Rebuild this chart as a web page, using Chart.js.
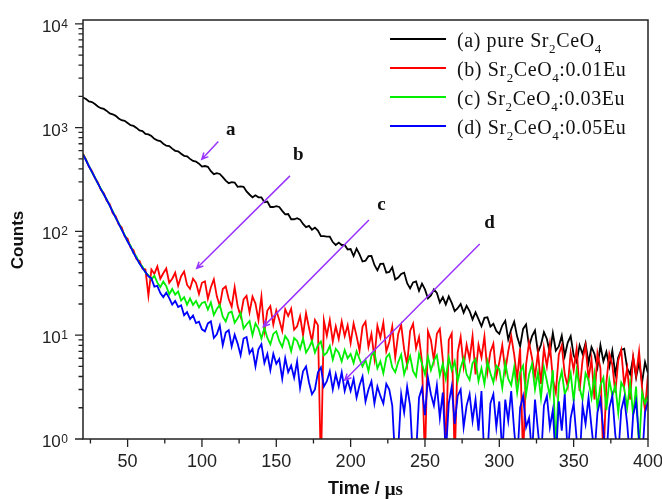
<!DOCTYPE html>
<html>
<head>
<meta charset="utf-8">
<script src="https://cdn.jsdelivr.net/npm/chart.js@4.4.1/dist/chart.umd.min.js"></script>
<style>
  html, body { margin: 0; padding: 0; background: #fff; }
  canvas { display: block; }
</style>
</head>
<body>
<canvas id="graficoDecaimiento" width="662" height="499"></canvas>
<script>
// time axis (µs) and photon counts
const timeUs = [
  20, 22, 24, 26, 28, 30, 32, 34, 36, 38, 40, 42, 44, 46, 48, 50, 52, 54, 56, 58,
  60, 62, 64, 66, 68, 70, 72, 74, 76, 78, 80, 82, 84, 86, 88, 90, 92, 94, 96, 98,
  100, 102, 104, 106, 108, 110, 112, 114, 116, 118, 120, 122, 124, 126, 128, 130, 132, 134, 136, 138,
  140, 142, 144, 146, 148, 150, 152, 154, 156, 158, 160, 162, 164, 166, 168, 170, 172, 174, 176, 178,
  180, 182, 184, 186, 188, 190, 192, 194, 196, 198, 200, 202, 204, 206, 208, 210, 212, 214, 216, 218,
  220, 222, 224, 226, 228, 230, 232, 234, 236, 238, 240, 242, 244, 246, 248, 250, 252, 254, 256, 258,
  260, 262, 264, 266, 268, 270, 272, 274, 276, 278, 280, 282, 284, 286, 288, 290, 292, 294, 296, 298,
  300, 302, 304, 306, 308, 310, 312, 314, 316, 318, 320, 322, 324, 326, 328, 330, 332, 334, 336, 338,
  340, 342, 344, 346, 348, 350, 352, 354, 356, 358, 360, 362, 364, 366, 368, 370, 372, 374, 376, 378,
  380, 382, 384, 386, 388, 390, 392, 394, 396, 398, 400
];

const countsPure = [
  1950, 1890, 1790, 1765, 1690, 1600, 1540, 1515, 1450, 1370,
  1345, 1300, 1225, 1180, 1165, 1110, 1055, 1040, 995, 940,
  925, 870, 860, 830, 780, 755, 742, 700, 670, 665,
  628, 598, 592, 560, 535, 530, 500, 478, 472, 450,
  422, 427, 420, 381, 356, 364, 358, 334, 309, 292,
  299, 296, 269, 272, 269, 243, 227, 213, 223, 213,
  213, 191, 194, 172, 172, 175, 172, 158, 146, 147,
  131, 131, 134, 130, 118, 110, 113, 104, 109, 102,
  90, 90, 89, 89, 79, 74, 78, 74, 74, 67,
  67.6, 58, 68.3, 60.2, 51.3, 52.3, 57.8, 58.1, 47.5, 42.2,
  48.8, 49, 40, 40.7, 45.2, 34.4, 35.9, 39, 40.1, 31.7,
  28.3, 32.3, 33, 26.7, 31.4, 27.6, 22.7, 24.2, 27.6, 25.5,
  20.7, 23.3, 19.8, 23.7, 20.5, 17.1, 18.2, 20, 16.5, 19.2,
  17.1, 14.2, 16.6, 14.3, 12.2, 14.7, 14.9, 12.1, 12.9, 11,
  10.3, 12.4, 13.8, 9.1, 11.4, 13.5, 9.7, 7.8, 11.5, 12.7,
  7.8, 9.8, 11.1, 6.8, 8.1, 10.7, 9.2, 6.7, 10.5, 7.1,
  7.8, 9.9, 6.3, 8.5, 9.8, 6.4, 5.5, 8, 6.6, 8.4,
  5.4, 7.7, 6.6, 4.9, 8, 5.6, 6.9, 5, 7.1, 4.2,
  6.1, 7.2, 7.4, 4.8, 4.2, 6.1, 3.9, 5.5, 3.5, 5.5,
  4.3
];

const counts001Eu = [
  560, 495, 420, 382, 326, 296, 252, 233, 197, 183,
  150, 140, 117, 110, 90, 85, 70, 66, 54, 52,
  44, 43, 24, 43, 39, 46, 35, 39.5, 44, 32,
  35, 40, 30, 37, 41, 30.5, 28, 35, 32, 25,
  32, 33, 22.5, 29, 34.5, 23.7, 19.2, 27.9, 29.5, 22.3,
  18.8, 29, 19.1, 15.2, 22.1, 24, 16.6, 23.6, 20.2, 14,
  23.5, 11, 17.3, 19.1, 12.7, 17.4, 14, 11, 17.8, 15.3,
  18, 11.3, 12.2, 15.3, 10, 16.3, 11.8, 8.7, 14, 12.5,
  0.5, 13.9, 9.9, 14, 8.7, 12.2, 9.2, 13.6, 9.8, 12.5,
  8.4, 13, 9.8, 7.1, 12.1, 13.5, 7.7, 10.3, 6, 12.3,
  9.5, 13.2, 7, 8.6, 12.1, 6.1, 10.3, 12.6, 7.3, 5.2,
  11, 12.9, 7.5, 9.6, 5.5, 0.6, 10.9, 9, 5.7, 10.3,
  11.5, 5.8, 0.7, 9, 10.4, 0.6, 6.8, 9.6, 5, 8.1,
  5.9, 9.8, 4.2, 8.1, 6.1, 9.7, 4.4, 6.9, 8.3, 4,
  5.5, 8, 4.5, 7, 9.8, 6.5, 3.8, 7.5, 0.6, 5.2,
  8.5, 6, 4, 6.8, 3.4, 7.5, 5, 8.2, 3.8, 2.8,
  6.5, 8, 4.2, 3.2, 6.8, 4.6, 7.4, 2.9, 5.8, 7.9,
  3.8, 5.9, 2.4, 6.7, 4.8, 0.6, 3.5, 6.6, 5.2, 2.8,
  5.7, 7.2, 3.3, 4.8, 2.4, 6.2, 4.1, 7, 3.1, 1.9,
  4.2
];

const counts003Eu = [
  555, 488, 428, 372, 333, 289, 259, 226, 204, 176,
  157, 135, 121, 104, 93, 80, 73, 62, 57, 49,
  46, 40, 38, 34.5, 37.5, 32.1, 29.1, 32.9, 29.7, 24.8,
  27.9, 24.6, 26.4, 21.6, 23.3, 19.7, 22.6, 19.6, 21.4, 18.5,
  20.5, 21, 17.7, 20.7, 15.7, 17.9, 19.6, 15.1, 13.6, 16.4,
  16.9, 13.2, 14.6, 16.4, 11.6, 12.7, 13.7, 10, 13, 11.6,
  9.3, 11.8, 9.4, 8.2, 10.3, 10.9, 8.8, 7.7, 9.8, 8.9,
  7, 9.4, 8.8, 7.4, 9.3, 6.8, 7.6, 8.8, 6.8, 8,
  8.7, 6.4, 6.8, 7.9, 5.8, 7.4, 6.8, 5.6, 7.2, 6,
  6.6, 5.4, 7, 5.9, 5, 5.8, 4.5, 6.4, 6.9, 4.8,
  5.6, 4.3, 6.1, 6.6, 4.9, 4.4, 5.5, 6.5, 4.2, 5.2,
  6.3, 4.5, 4, 6.6, 5.3, 4.2, 6.2, 4.6, 5.7, 6.4,
  4.1, 5.3, 3.8, 6.1, 4.6, 5.6, 3.6, 4.9, 6, 4.2,
  3.7, 5.4, 5.9, 3.6, 4.8, 3.4, 5.6, 4.3, 3.5, 5.1,
  4.7, 3.1, 5.4, 3.8, 3.3, 4.9, 2.8, 4.4, 5.1, 2.7,
  4.2, 5.3, 3, 4.4, 2.5, 4.9, 3.6, 2.6, 4.6, 0.8,
  3.4, 4.5, 2.7, 3.2, 4.3, 2.3, 4.6, 3.1, 2.4, 4.3,
  3.7, 2.5, 4.2, 2, 3.3, 3.9, 1.9, 3.7, 2.6, 3.3,
  1.8, 3.5, 3.1, 2, 3.5, 1.7, 3.2, 0.8, 2.8, 2.2,
  2.6
];

const counts005Eu = [
  550, 485, 425, 375, 330, 290, 256, 228, 201, 177,
  154, 136, 119, 104, 91, 80, 71, 62, 55, 49,
  44.5, 40.7, 37, 35.3, 29.4, 29.9, 25.5, 23.3, 25.7, 22.8,
  19.7, 21.4, 18.7, 19.4, 15.6, 16.7, 14.3, 15.5, 13.1, 13.5,
  11.4, 10.9, 13, 13.6, 9.4, 10.2, 12.4, 8, 10.6, 11.2,
  7.8, 10.1, 8.3, 6.4, 9.3, 9.6, 6.7, 7.4, 5, 7.3,
  8.2, 5.4, 6.6, 4.6, 6.6, 5.3, 5.9, 3.8, 6, 4.4,
  5.1, 3.9, 5.6, 3.1, 4.5, 5, 3.5, 2.7, 3, 4.4,
  4.9, 3.2, 3.6, 4.5, 3, 4.2, 3.2, 4.4, 2.9, 3.7,
  2.9, 3.8, 2.5, 3.3, 4, 2.3, 3, 3.6, 2.2, 3.2,
  2.6, 2.2, 3.4, 3, 2.1, 0.6, 0.8, 2.7, 1.8, 3.2,
  2.1, 0.6, 0.7, 2.5, 3.1, 1.7, 3.9, 2.7, 2.1, 3.3,
  1.6, 2.8, 0.7, 2.2, 3.2, 1.4, 2.6, 3, 1.3, 2.1,
  2.7, 1.5, 2.4, 1.2, 2.9, 0.6, 0.7, 2.2, 2.7, 1.3,
  2.3, 0.7, 2.4, 1.5, 2.9, 1.2, 0.6, 2, 2.6, 1.3,
  1.6, 0.7, 2.4, 1.2, 0.6, 2.1, 2.6, 1.3, 1.9, 0.6,
  2.3, 1.2, 2.7, 0.7, 1.6, 2.2, 1, 0.6, 2.1, 1.4,
  2.5, 1.3, 0.7, 1.8, 2.4, 1.2, 0.6, 2, 2.6, 1.1,
  0.7, 1.9, 2.5, 1.4, 0.6, 1.7, 2.3, 1, 0.6, 1.8,
  2.3
];

// "_d" marks a subscript digit
const seriesLabels = [
  "(a) pure Sr_2CeO_4",
  "(b) Sr_2CeO_4:0.01Eu",
  "(c) Sr_2CeO_4:0.03Eu",
  "(d) Sr_2CeO_4:0.05Eu"
];
const seriesColors = ["#000000", "#ff0000", "#00ee00", "#0000ff"];
const xTickValues = [50, 100, 150, 200, 250, 300, 350, 400];
const yTickPowers = [0, 1, 2, 3, 4];

// arrows pointing at each curve, in data units (µs, counts)
const curveArrows = [
  { label: "a", from: [111.0, 734], to: [99.9, 497], at: [119.4, 951] },
  { label: "b", from: [159.2, 343], to: [96.5, 44.2], at: [164.8, 546] },
  { label: "c", from: [212.3, 129], to: [141.3, 12.1], at: [220.8, 180] },
  { label: "d", from: [286.8, 75.8], to: [196.1, 3.7], at: [293.5, 120] }
];

const SANS = '"Liberation Sans", Arial, sans-serif';
const SERIF = '"Liberation Serif", "Times New Roman", serif';

function drawRich(ctx, text, x, y, size) {
  const parts = text.split(/_(\d)/);
  parts.forEach((p, i) => {
    if (!p) return;
    if (i % 2) {
      ctx.font = `${Math.round(size * 0.65)}px ${SERIF}`;
      ctx.fillText(p, x, y + size * 0.34);
    } else {
      ctx.font = `${size}px ${SERIF}`;
      ctx.fillText(p, x, y);
    }
    x += ctx.measureText(p).width;
  });
}

const decor = {
  id: "decor",
  afterDatasetsDraw(chart) {
    const { ctx, chartArea: a, scales: { x, y } } = chart;
    ctx.save();

    // frame
    ctx.strokeStyle = "#222";
    ctx.lineWidth = 1.5;
    ctx.strokeRect(a.left, a.top, a.right - a.left, a.bottom - a.top);

    // tick marks
    ctx.lineWidth = 1.3;
    ctx.beginPath();
    yTickPowers.forEach(k => {
      const py = y.getPixelForValue(10 ** k);
      ctx.moveTo(a.left - 8, py);
      ctx.lineTo(a.left, py);
      if (k < 4) {
        for (let m = 2; m <= 9; m++) {
          const pm = y.getPixelForValue(m * 10 ** k);
          ctx.moveTo(a.left - 4.5, pm);
          ctx.lineTo(a.left, pm);
        }
      }
    });
    xTickValues.forEach(v => {
      const px = x.getPixelForValue(v);
      ctx.moveTo(px, a.bottom);
      ctx.lineTo(px, a.bottom + 8);
      const pm = x.getPixelForValue(v - 25);
      ctx.moveTo(pm, a.bottom);
      ctx.lineTo(pm, a.bottom + 4.5);
    });
    ctx.stroke();

    // y labels 10^k
    ctx.fillStyle = "#222";
    ctx.textBaseline = "alphabetic";
    const rightEdge = a.left - 15;
    yTickPowers.forEach(k => {
      const py = y.getPixelForValue(10 ** k);
      ctx.font = `12px ${SANS}`;
      const sw = ctx.measureText(String(k)).width;
      ctx.textAlign = "left";
      ctx.fillText(String(k), rightEdge - sw, py + 4);
      ctx.font = `17px ${SANS}`;
      ctx.textAlign = "right";
      ctx.fillText("10", rightEdge - sw - 0.5, py + 8);
    });

    // axis titles
    ctx.fillStyle = "#111";
    ctx.save();
    ctx.translate(18, 240);
    ctx.rotate(-Math.PI / 2);
    ctx.textAlign = "center";
    ctx.textBaseline = "middle";
    ctx.font = `bold 17px ${SANS}`;
    ctx.fillText("Counts", 0, 0);
    ctx.restore();
    ctx.textBaseline = "middle";
    ctx.textAlign = "left";
    ctx.font = `bold 18px ${SANS}`;
    const t1 = "Time / ";
    const w1 = ctx.measureText(t1).width;
    ctx.font = `bold 19px ${SERIF}`;
    const w2 = ctx.measureText("μs").width;
    const tx = (a.left + a.right) / 2 - (w1 + w2) / 2;
    ctx.font = `bold 18px ${SANS}`;
    ctx.fillText(t1, tx, 489);
    ctx.font = `bold 19px ${SERIF}`;
    ctx.fillText("μs", tx + w1, 490);

    // arrows and curve letters
    ctx.strokeStyle = "#9933ff";
    ctx.lineWidth = 1.5;
    curveArrows.forEach(ar => {
      const x0 = x.getPixelForValue(ar.from[0]), y0 = y.getPixelForValue(ar.from[1]);
      const x1 = x.getPixelForValue(ar.to[0]), y1 = y.getPixelForValue(ar.to[1]);
      const ang = Math.atan2(y1 - y0, x1 - x0);
      ctx.beginPath();
      ctx.moveTo(x0, y0);
      ctx.lineTo(x1, y1);
      ctx.moveTo(x1 - 7 * Math.cos(ang - 0.45), y1 - 7 * Math.sin(ang - 0.45));
      ctx.lineTo(x1, y1);
      ctx.lineTo(x1 - 7 * Math.cos(ang + 0.45), y1 - 7 * Math.sin(ang + 0.45));
      ctx.stroke();
      ctx.fillStyle = "#111";
      ctx.font = `bold 19px ${SERIF}`;
      ctx.textAlign = "center";
      ctx.textBaseline = "middle";
      ctx.fillText(ar.label, x.getPixelForValue(ar.at[0]), y.getPixelForValue(ar.at[1]));
    });

    // legend
    ctx.textAlign = "left";
    ctx.textBaseline = "alphabetic";
    ctx.letterSpacing = "0.6px";
    seriesLabels.forEach((lab, i) => {
      const ly = a.top + 19 + i * 29;
      ctx.strokeStyle = seriesColors[i];
      ctx.lineWidth = 2;
      ctx.beginPath();
      ctx.moveTo(a.right - 258, ly);
      ctx.lineTo(a.right - 202, ly);
      ctx.stroke();
      ctx.fillStyle = "#111";
      drawRich(ctx, lab, a.right - 191, ly + 7.5, 20);
    });

    ctx.restore();
  }
};

const seriesCounts = [countsPure, counts001Eu, counts003Eu, counts005Eu];

new Chart(document.getElementById("graficoDecaimiento").getContext("2d"), {
  type: "line",
  data: {
    datasets: seriesCounts.map((counts, i) => ({
      label: seriesLabels[i].replace(/_/g, ""),
      data: timeUs.map((t, j) => ({ x: t, y: counts[j] })),
      borderColor: seriesColors[i],
      borderWidth: 1.8,
      pointRadius: 0,
      tension: 0,
      fill: false,
      order: 3 - i
    }))
  },
  options: {
    responsive: false,
    animation: false,
    layout: { padding: { left: 0, right: 14, top: 20, bottom: 0 } },
    plugins: {
      legend: { display: false },
      tooltip: { enabled: false }
    },
    scales: {
      x: {
        type: "linear",
        min: 20,
        max: 400,
        afterFit: s => { s.height = 60; s.paddingLeft = 0; s.paddingRight = 0; },
        afterBuildTicks: s => { s.ticks = xTickValues.map(v => ({ value: v })); },
        grid: { display: false, drawTicks: false },
        border: { display: false },
        ticks: { color: "#222", padding: 12, font: { family: SANS, size: 18 }, maxRotation: 0 },
        title: { display: false }
      },
      y: {
        type: "logarithmic",
        min: 1,
        max: 10900,
        afterFit: s => { s.width = 83; },
        grid: { display: false, drawTicks: false },
        border: { display: false },
        ticks: { display: false },
        title: { display: false }
      }
    }
  },
  plugins: [decor]
});
</script>
</body>
</html>
